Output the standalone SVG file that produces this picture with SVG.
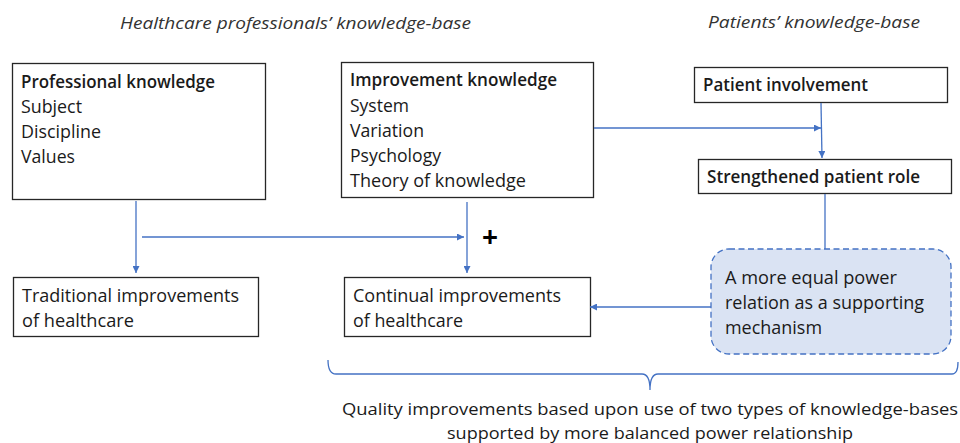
<svg xmlns="http://www.w3.org/2000/svg" width="960" height="443" viewBox="0 0 960 443">
<defs>
<marker id="ah" viewBox="0 0 10 10" refX="10" refY="5" markerWidth="7" markerHeight="7" markerUnits="userSpaceOnUse" orient="auto">
<path d="M0,0 L10,5 L0,10 z" fill="#4472c4"/>
</marker>
<style>
text{font-family:"Open Sans","Noto Sans","Liberation Sans",sans-serif;fill:#1a1a1a;font-size:18px}
.t{font-style:italic;font-size:16px;fill:#333}
.b{font-weight:600;font-size:17.5px}
.p{font-weight:bold;font-size:28px;fill:#000}
.cap{font-size:17px}
.box{fill:#fff;stroke:#262626;stroke-width:1.3}
.dash{fill:#dae3f3;stroke:#4472c4;stroke-width:1.3;stroke-dasharray:6 3.5}
.c{fill:none;stroke:#4472c4;stroke-width:1.3}
.a{marker-end:url(#ah)}
</style>
</defs>
<rect width="960" height="443" fill="#fff"/>
<g id="titles">
<text class="t" x="120" y="29" textLength="351" lengthAdjust="spacingAndGlyphs">Healthcare professionals’ knowledge-base</text>
<text class="t" x="708" y="28" textLength="212" lengthAdjust="spacingAndGlyphs">Patients’ knowledge-base</text>
</g>
<g id="professional">
<rect class="box" x="12.5" y="63.5" width="253" height="136"/>
<text class="b" x="21" y="88" textLength="194" lengthAdjust="spacingAndGlyphs">Professional knowledge</text>
<text x="21" y="113" textLength="61" lengthAdjust="spacingAndGlyphs">Subject</text>
<text x="21" y="138" textLength="80" lengthAdjust="spacingAndGlyphs">Discipline</text>
<text x="21" y="163" textLength="54" lengthAdjust="spacingAndGlyphs">Values</text>
</g>
<g id="improvement">
<rect class="box" x="341.5" y="62.5" width="252" height="135"/>
<text class="b" x="350" y="86" textLength="207" lengthAdjust="spacingAndGlyphs">Improvement knowledge</text>
<text x="350" y="112" textLength="59" lengthAdjust="spacingAndGlyphs">System</text>
<text x="350" y="137" textLength="74" lengthAdjust="spacingAndGlyphs">Variation</text>
<text x="350" y="162" textLength="91" lengthAdjust="spacingAndGlyphs">Psychology</text>
<text x="350" y="187" textLength="176" lengthAdjust="spacingAndGlyphs">Theory of knowledge</text>
</g>
<g id="patient-involvement">
<rect class="box" x="694.5" y="67.5" width="253" height="35"/>
<text class="b" x="703" y="91" textLength="165" lengthAdjust="spacingAndGlyphs">Patient involvement</text>
</g>
<g id="strengthened">
<rect class="box" x="698.5" y="159.5" width="253" height="34"/>
<text class="b" x="707" y="183" textLength="213" lengthAdjust="spacingAndGlyphs">Strengthened patient role</text>
</g>
<g id="traditional">
<rect class="box" x="13.5" y="277.5" width="245" height="59"/>
<text x="22" y="302" textLength="217" lengthAdjust="spacingAndGlyphs">Traditional improvements</text>
<text x="22" y="327" textLength="112" lengthAdjust="spacingAndGlyphs">of healthcare</text>
</g>
<g id="continual">
<rect class="box" x="344.5" y="277.5" width="246" height="59"/>
<text x="353" y="302" textLength="208" lengthAdjust="spacingAndGlyphs">Continual improvements</text>
<text x="353" y="327" textLength="110" lengthAdjust="spacingAndGlyphs">of healthcare</text>
</g>
<g id="power-relation">
<rect class="dash" x="711" y="249" width="240" height="105" rx="18"/>
<text x="725" y="284" textLength="172" lengthAdjust="spacingAndGlyphs">A more equal power</text>
<text x="725" y="309" textLength="199" lengthAdjust="spacingAndGlyphs">relation as a supporting</text>
<text x="725" y="334" textLength="97" lengthAdjust="spacingAndGlyphs">mechanism</text>
</g>
<g id="connectors">
<path class="c a" d="M136 201 V273"/>
<path class="c a" d="M467 202 V273"/>
<path class="c a" d="M142 237 H464"/>
<path class="c a" d="M594 128 H821"/>
<path class="c a" d="M821 103 L822 158"/>
<path class="c" d="M825 194 V249"/>
<path class="c a" d="M711 307 H590"/>
<path class="c" d="M328 360 Q328 374 336 374 H642 Q650 374 650 390 Q650 374 658 374 H952 Q958 374 958 362"/>
</g>
<g id="plus">
<text class="p" x="490" y="247" text-anchor="middle">+</text>
</g>
<g id="caption">
<text class="cap" x="342" y="415" textLength="616" lengthAdjust="spacingAndGlyphs">Quality improvements based upon use of two types of knowledge-bases</text>
<text class="cap" x="447" y="439" textLength="406" lengthAdjust="spacingAndGlyphs">supported by more balanced power relationship</text>
</g>
</svg>
